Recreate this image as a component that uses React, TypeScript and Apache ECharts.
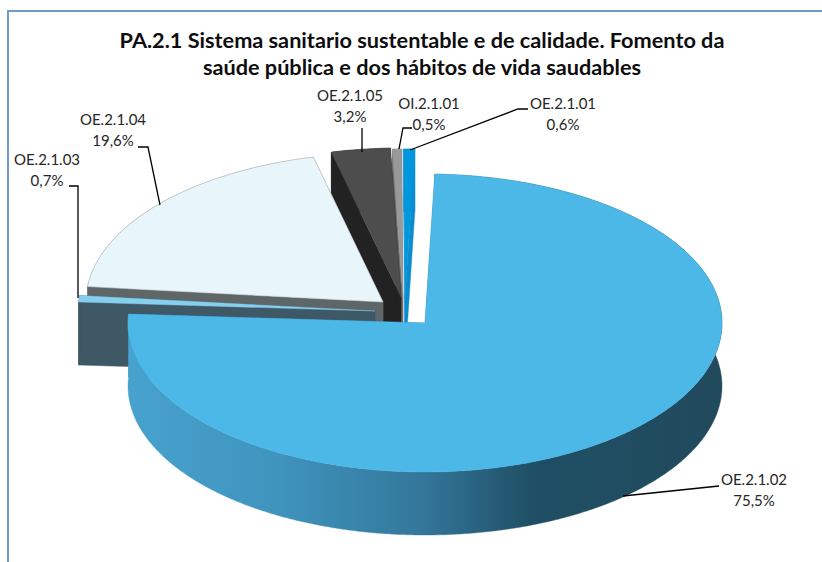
import React, { useEffect, useRef } from "react";
import * as echarts from "echarts";

const titleLines = [
  "PA.2.1 Sistema sanitario sustentable e de calidade. Fomento da",
  "saúde pública e dos hábitos de vida saudables",
];
const categories = ["OE.2.1.02", "OE.2.1.03", "OE.2.1.04", "OE.2.1.05", "OI.2.1.01", "OE.2.1.01"];
const shares = [75.5, 0.7, 19.6, 3.2, 0.5, 0.6];

// Appearance, same order as the data.
const topColors = ["#4cb8e8", "#87cfee", "#e8f5fb", "#4d4d4d", "#999999", "#0097dc"];
const faceColors = ["#2f7fa6", "#3f5866", "#5f6668", "#222222", "#6e6e6e", "#0b8ccf"];
const apexes = [[425, 323], [375, 311], [383, 302], [401, 297], [403, 298], [405, 298]];
const paintRank = [6, 5, 4, 3, 2, 1];
const labelCentres = [[754, 489], [47, 169], [113, 129], [350, 105], [429, 113], [563, 113]];
const leaders = [
  [[719, 486], [623, 496]],
  [[69, 186], [78, 186], [78, 298]],
  [[138, 147], [148, 147], [160, 205]],
  [[362, 128], [362, 152]],
  [[412, 128], [403, 128], [399, 149]],
  [[528, 109], [518, 109], [410, 150]],
];

const RX = 297;
const RY = 149;
const DEPTH = 63;
const START_DEG = 1.9;
const FONT = "Lato, 'Open Sans', sans-serif";

const total = shares.reduce((a, b) => a + b, 0);
const edges: number[] = [START_DEG];
shares.forEach((v) => edges.push(edges[edges.length - 1] + (v / total) * 360));

const rimPoint = (deg: number, i: number, drop = 0) => {
  const r = (deg * Math.PI) / 180;
  return [apexes[i][0] + RX * Math.sin(r), apexes[i][1] - RY * Math.cos(r) + drop];
};
const rimPoints = (a: number, b: number, i: number, drop = 0) => {
  const n = Math.max(2, Math.ceil((b - a) * 2));
  const out: number[][] = [];
  for (let k = 0; k <= n; k++) out.push(rimPoint(a + ((b - a) * k) / n, i, drop));
  return out;
};

const renderSlice = (params: any) => {
  const i = params.dataIndex;
  const a = edges[i];
  const b = edges[i + 1];
  const z2 = paintRank[i];
  const [cx, cy] = apexes[i];
  const poly = (points: number[][], fill: any, extra: any = {}) => ({
    type: "polygon",
    z2,
    shape: { points },
    style: { fill, stroke: fill, lineWidth: 0.4, ...extra },
  });
  const wallFill =
    i === 0
      ? new echarts.graphic.LinearGradient(0, 0, 1, 0, [
          { offset: 0, color: "#47a2ce" },
          { offset: 0.25, color: "#3f94bd" },
          { offset: 0.5, color: "#33769a" },
          { offset: 0.68, color: "#1f4f65" },
          { offset: 1, color: "#214a5c" },
        ])
      : faceColors[i];
  const face = (deg: number) => {
    const p = rimPoint(deg, i);
    return poly([[cx, cy], p, [p[0], p[1] + DEPTH], [cx, cy + DEPTH]], faceColors[i]);
  };
  const wall = poly(
    [...rimPoints(a, b, i), ...rimPoints(a, b, i, DEPTH).reverse()],
    wallFill
  );
  const top = poly(
    [[cx, cy], ...rimPoints(a, b, i)],
    topColors[i],
    i === 2 ? { stroke: "#c9d2d6", lineWidth: 0.6 } : {}
  );
  return { type: "group", children: [face(a), face(b), wall, top] };
};

export default function App() {
  const ref = useRef<HTMLDivElement>(null);
  useEffect(() => {
    const chart = echarts.init(ref.current!, null, { renderer: "svg" });
    const lineEls = leaders.map((pts) => ({
      type: "polyline",
      z: 20,
      shape: { points: pts },
      style: { stroke: "#000000", lineWidth: 1.3, fill: "none" },
    }));
    const labelEls = categories.map((c, i) => ({
      type: "text",
      z: 21,
      x: labelCentres[i][0],
      y: labelCentres[i][1],
      style: {
        text: `${c}\n${shares[i].toFixed(1).replace(".", ",")}%`,
        font: `15px ${FONT}`,
        fill: "#262626",
        align: "center",
        verticalAlign: "middle",
        lineHeight: 21,
      },
    }));
    chart.setOption({
      animation: false,
      backgroundColor: "#ffffff",
      title: {
        text: titleLines.join("\n"),
        left: 417,
        top: 21,
        textAlign: "center",
        textStyle: {
          fontFamily: FONT,
          fontWeight: "bold",
          fontSize: 21.7,
          lineHeight: 27,
          color: "#0d0d0d",
        },
      },
      series: [
        {
          type: "custom",
          coordinateSystem: "none",
          data: shares,
          renderItem: renderSlice,
          silent: true,
        },
      ],
      graphic: [
        {
          type: "line",
          z: 19,
          shape: { x1: 8, y1: 11, x2: 822, y2: 11 },
          style: { stroke: "#7099cc", lineWidth: 2 },
        },
        {
          type: "line",
          z: 19,
          shape: { x1: 8, y1: 10, x2: 8, y2: 562 },
          style: { stroke: "#7099cc", lineWidth: 2 },
        },
        ...lineEls,
        ...labelEls,
      ],
    });
    return () => chart.dispose();
  }, []);
  return <div ref={ref} style={{ position: "fixed", left: 0, top: 0, width: 822, height: 562 }} />;
}
